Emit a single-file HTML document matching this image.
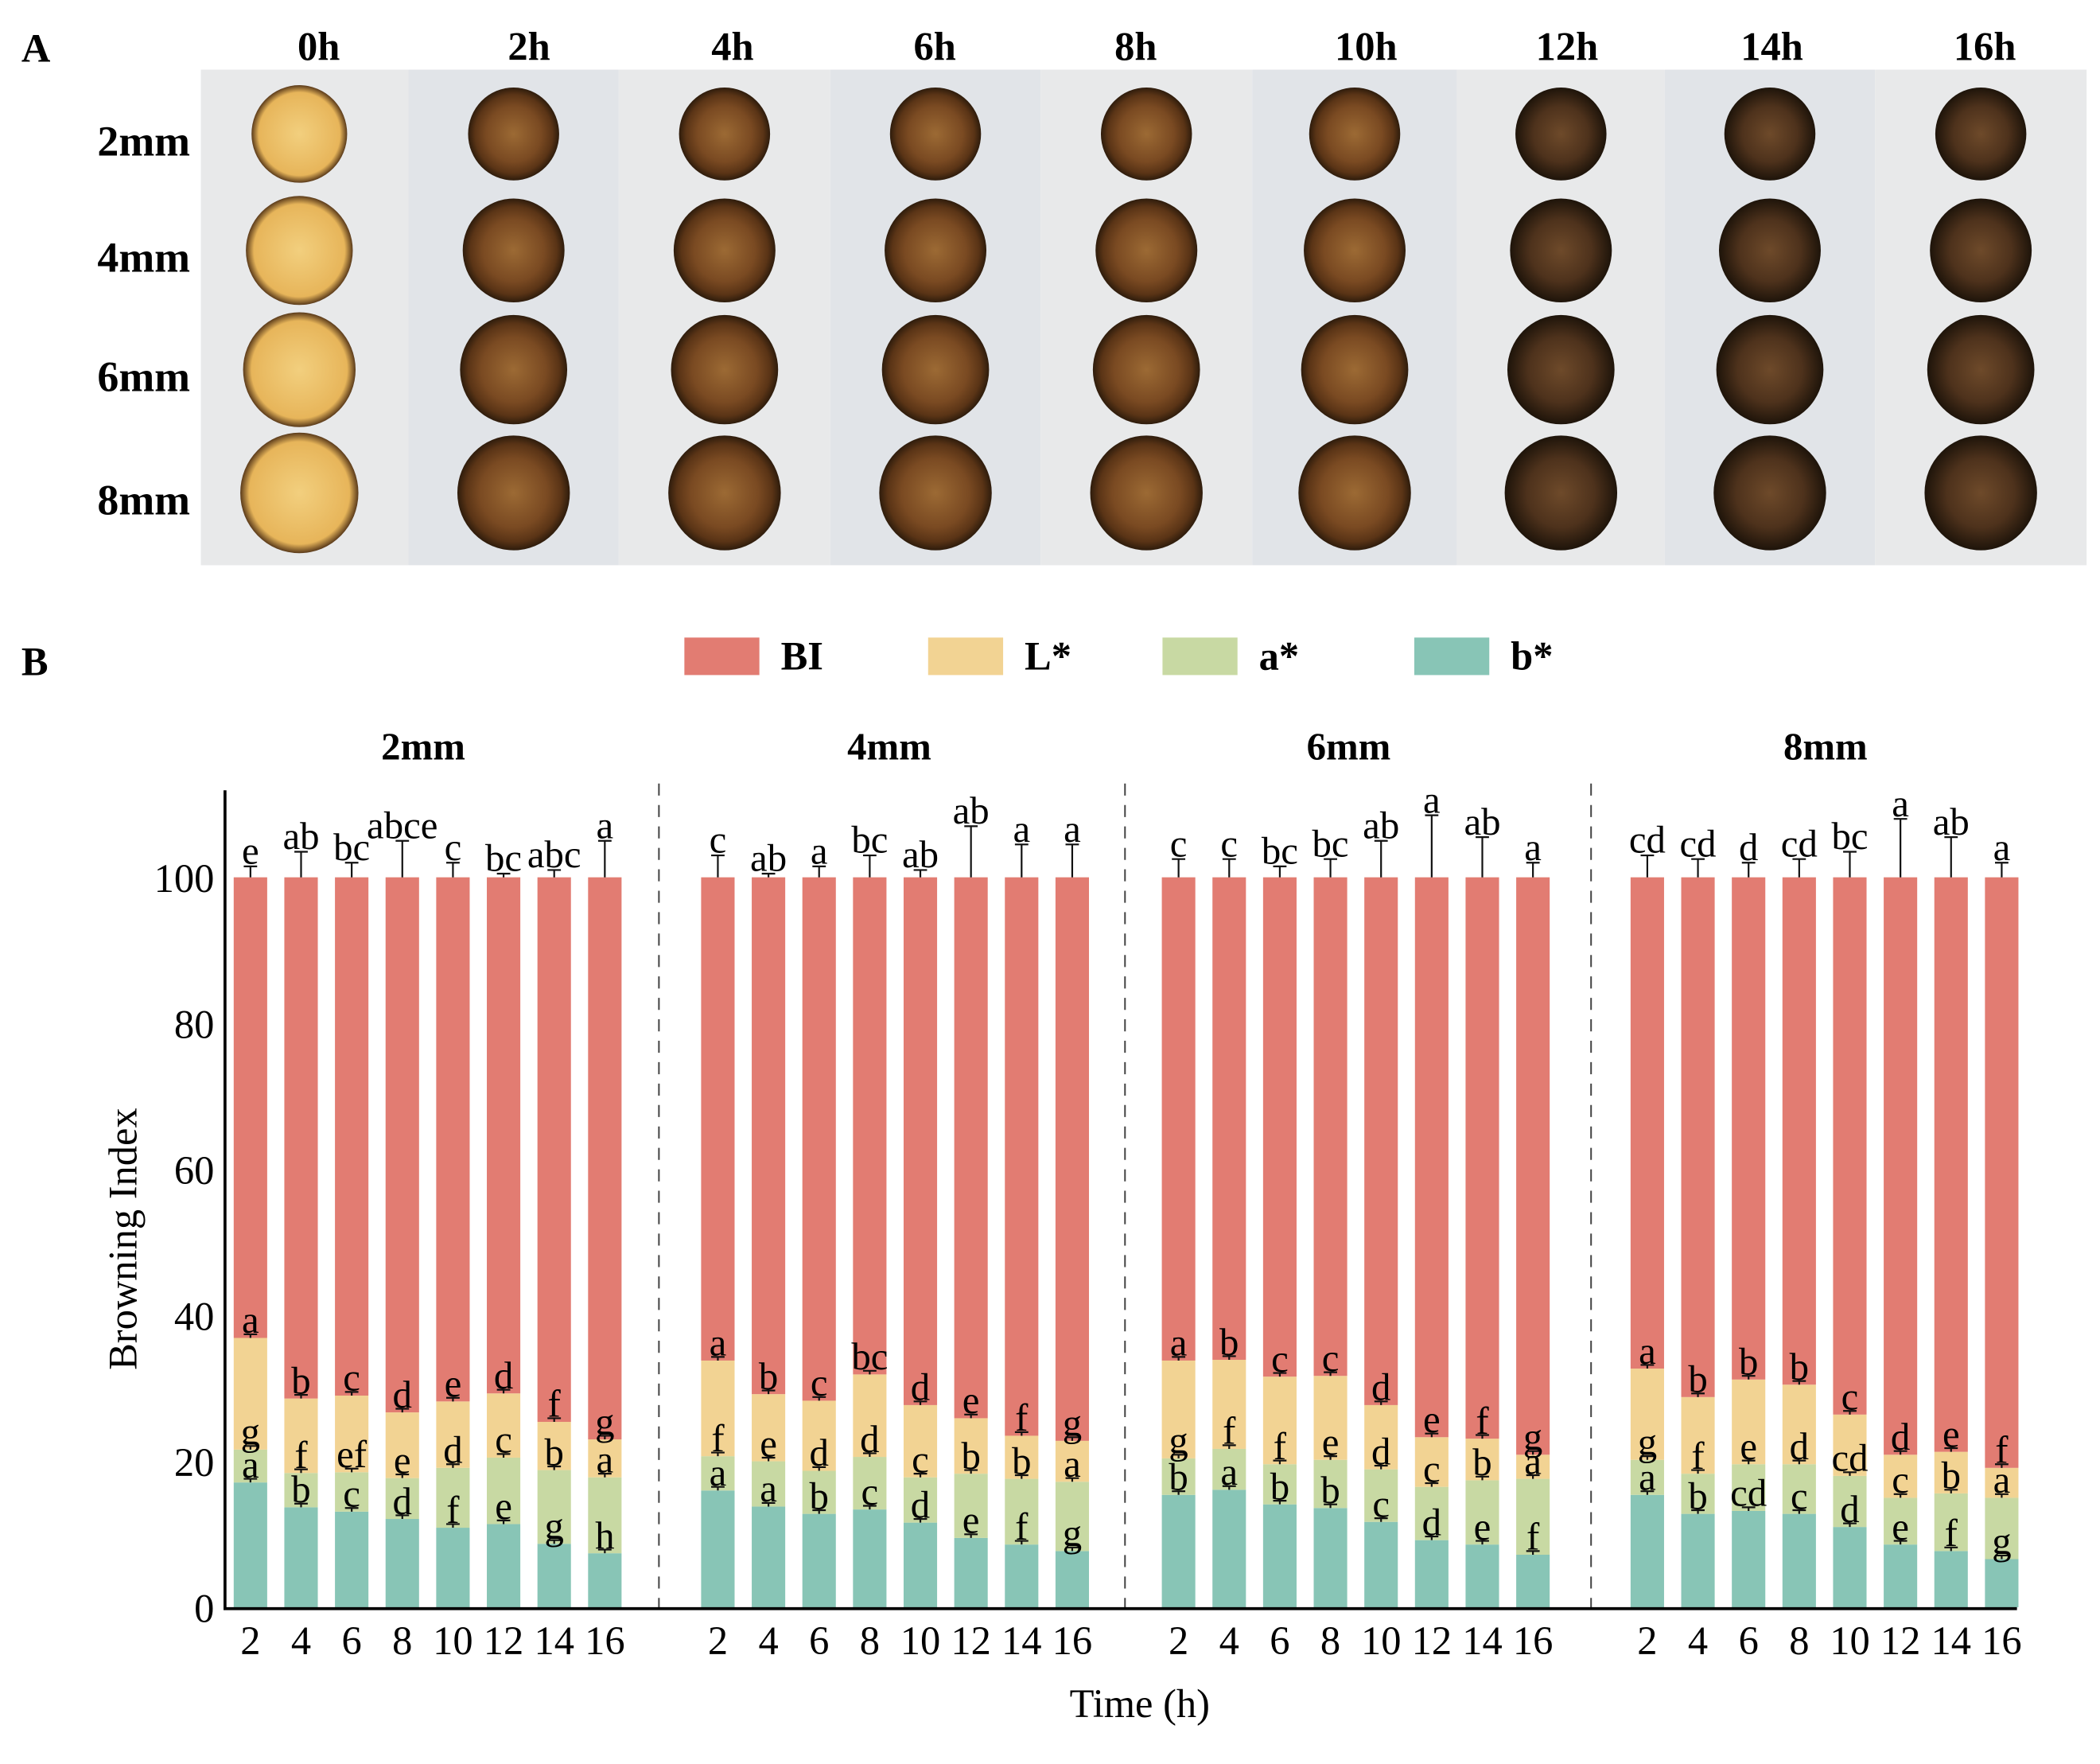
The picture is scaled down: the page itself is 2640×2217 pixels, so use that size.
<!DOCTYPE html>
<html><head><meta charset="utf-8"><style>
html,body{margin:0;padding:0;background:#fff;}
svg{display:block;font-family:"Liberation Serif",serif;}
</style></head><body>
<svg id="fig" width="2640" height="2217" viewBox="0 0 1568 1317" preserveAspectRatio="none" xmlns="http://www.w3.org/2000/svg">
<defs>
<radialGradient id="gy" cx="50%" cy="50%" r="50%"><stop offset="0%" stop-color="#f2cf7e"/><stop offset="85%" stop-color="#e7b55a"/><stop offset="100%" stop-color="#5a3a1a"/></radialGradient>
<radialGradient id="gb" cx="50%" cy="50%" r="50%"><stop offset="0%" stop-color="#9c6a34"/><stop offset="60%" stop-color="#7a4a22"/><stop offset="85%" stop-color="#5a3416"/><stop offset="100%" stop-color="#2e1c0c"/></radialGradient>
<radialGradient id="gd" cx="50%" cy="50%" r="50%"><stop offset="0%" stop-color="#6e4a2a"/><stop offset="60%" stop-color="#4e321c"/><stop offset="100%" stop-color="#1e140a"/></radialGradient>
</defs>
<g id="panelA"></g>
<g id="panelB"></g>
</svg>
<script>
// ---- chart data ----
const categories = [2,4,6,8,10,12,14,16];
const facets = ["2mm","4mm","6mm","8mm"];
const bStar = [
 [17.1,13.7,13.1,12.1,10.9,11.4,8.7,7.4],
 [16.0,13.8,12.8,13.4,11.6,9.5,8.6,7.7],
 [15.4,16.1,14.1,13.6,11.7,9.2,8.6,7.2],
 [15.4,12.8,13.2,12.8,11.0,8.6,7.7,6.6]];
const aStar = [
 [4.5,4.7,5.4,5.6,8.2,9.1,10.1,10.4],
 [4.7,6.2,5.9,7.2,6.2,8.8,9.0,9.5],
 [5.0,5.6,5.5,6.6,7.2,7.3,8.8,10.4],
 [4.8,5.5,6.4,6.8,7.0,6.4,7.9,8.4]];
const lStar = [
 [15.3,10.2,10.5,9.0,9.1,8.8,6.6,5.2],
 [13.1,9.2,9.6,11.3,9.9,7.6,5.9,5.6],
 [13.4,12.2,12.0,11.5,8.8,6.8,5.7,3.3],
 [12.5,10.5,11.6,10.9,8.4,5.9,5.7,4.1]];
const biVal = [
 [63.1,71.4,71.0,73.3,71.8,70.7,74.6,77.0],
 [66.2,70.8,71.7,68.1,72.3,74.1,76.5,77.2],
 [66.2,66.1,68.4,68.3,72.3,76.7,76.9,79.1],
 [67.3,71.2,68.8,69.5,73.6,79.1,78.7,80.9]];
const topErr = [
 [1.5,3.5,2,5,2,0.5,1,5],
 [3,0.5,1.5,3,1,7,4.5,4.5],
 [2.5,2.5,1.5,2.5,5,8.5,5.5,2],
 [3,2.5,2,2.5,3.5,8,5.5,2]];
const topLetters = [
 ["e","ab","bc","abce","c","bc","abc","a"],
 ["c","ab","a","bc","ab","ab","a","a"],
 ["c","c","bc","bc","ab","a","ab","a"],
 ["cd","cd","d","cd","bc","a","ab","a"]];
const biLetters = [
 ["a","b","c","d","e","d","f","g"],
 ["a","b","c","bc","d","e","f","g"],
 ["a","b","c","c","d","e","f","g"],
 ["a","b","b","b","c","d","e","f"]];
const lLetters = [
 ["g","f","ef","e","d","c","b","a"],
 ["f","e","d","d","c","b","b","a"],
 ["g","f","f","e","d","c","b","a"],
 ["g","f","e","d","cd","c","b","a"]];
const aLetters = [
 ["a","b","c","d","f","e","g","h"],
 ["a","a","b","c","d","e","f","g"],
 ["b","a","b","b","c","d","e","f"],
 ["a","b","cd","c","d","e","f","g"]];
const yTicks = [0,20,40,60,80,100];
const seriesNames = ["BI","L*","a*","b*"];
const seriesColors = ["#e27c72","#f2d393","#c8d9a3","#88c5b6"];

const NS="http://www.w3.org/2000/svg";
function mk(parent,tag,attrs,txt){const e=document.createElementNS(NS,tag);for(const k in attrs)e.setAttribute(k,attrs[k]);if(txt!==undefined)e.textContent=txt;parent.appendChild(e);return e;}

// ---- Panel A (photos) ----
const A=document.getElementById('panelA');
let t=mk(A,'text',{x:16,y:46,'font-size':30,'font-weight':'bold'},'A');


const times=["0h","2h","4h","6h","8h","10h","12h","14h","16h"];
const colX=[150,305,462,620,777,935,1088,1243,1400,1558];
const colLabelX=[238,395,547,698,848,1020,1170,1323,1482];
const rows=["2mm","4mm","6mm","8mm"];
const rowY=[100,187,276,368];
for(let c=0;c<9;c++){
  const r=mk(A,'rect',{x:colX[c],y:52,width:colX[c+1]-colX[c],height:370,fill:c%2?'#e1e4e8':'#e8e9ea'});
  
  
  const l=mk(A,'text',{x:colLabelX[c],y:45,'font-size':30,'font-weight':'bold','text-anchor':'middle'},times[c]);
  
  
  for(let k=0;k<4;k++){
    const cx=(colX[c]+colX[c+1])/2+(c==0?-4:0);
    const rad=[34,38,40,42][k]*(c==0?1.05:1);
    const d=mk(A,'ellipse',{cx:cx,cy:rowY[k],rx:rad,ry:rad*1.02,fill:c==0?'url(#gy)':(c>=6?'url(#gd)':'url(#gb)')});
    
    
  }
}
for(let k=0;k<4;k++){
  const l=mk(A,'text',{x:142,y:rowY[k]+16,'font-size':32,'font-weight':'bold','text-anchor':'end'},rows[k]);
  
  
}

// ---- Panel B (chart) ----
const B=document.getElementById('panelB');
const y0=1200, y100=655;
function yS(v){return y0-(y0-y100)*v/100;}
const groupStart=[187,536,880,1230], step=37.8, bw=25;
function xS(g,i){return groupStart[g]+i*step;}
t=mk(B,'text',{x:16,y:504,'font-size':30,'font-weight':'bold'},'B');


const legX=[511,693,868,1056];
for(let s=0;s<4;s++){
  const g=mk(B,'g',{});
  
  
  mk(g,'rect',{x:legX[s],y:476,width:56,height:28,fill:seriesColors[s]});
  mk(g,'text',{x:legX[s]+72,y:500,'font-size':30,'font-weight':'bold'},seriesNames[s]);
}
const facetX=[316,664,1007,1363];
for(let f=0;f<4;f++){
  const ft=mk(B,'text',{x:facetX[f],y:567,'font-size':29,'font-weight':'bold','text-anchor':'middle'},facets[f]);
  
  
}
[492,840,1188].forEach((x,i)=>{
  const l=mk(B,'line',{x1:x,y1:585,x2:x,y2:y0,stroke:'#444','stroke-width':1.2,'stroke-dasharray':'9,7'});
  
  
});
yTicks.forEach(v=>{
  const tk=mk(B,'text',{x:160,y:yS(v)+11,'font-size':30,'text-anchor':'end'},String(v));
  
  
});
t=mk(B,'text',{x:0,y:0,'font-size':30,'text-anchor':'middle',transform:'translate(102,925) rotate(-90)'},'Browning Index');


t=mk(B,'text',{x:851,y:1282,'font-size':30,'text-anchor':'middle'},'Time (h)');



function errBar(parent,x,yv,ev){
  const yt=yS(yv+ev), yb=yS(yv);
  const e=mk(parent,'path',{d:`M${x},${yb}V${yt}M${x-5},${yt}H${x+5}`,stroke:'#111','stroke-width':1.3,fill:'none'});
  
  
  return yt;
}
function letter(parent,x,y,txt,name){
  const e=mk(parent,'text',{x:x,y:y,'font-size':29,'text-anchor':'middle'},txt);
  
  
}
for(let f=0;f<4;f++){
  for(let i=0;i<8;i++){
    const x=xS(f,i);
    const g=mk(B,'g',{});
    
    
    const segs=[bStar[f][i],aStar[f][i],lStar[f][i],biVal[f][i]];
    const cols=[seriesColors[3],seriesColors[2],seriesColors[1],seriesColors[0]];
    const nm=["b-star","a-star","l-star","bi"];
    let cum=0; const tops=[];
    for(let s=0;s<4;s++){
      const r=mk(g,'rect',{x:x-bw/2,y:yS(cum+segs[s]),width:bw,height:yS(cum)-yS(cum+segs[s]),fill:cols[s]});
      
      
      cum+=segs[s]; tops.push(cum);
    }
    const e1=errBar(g,x,tops[0],0.5); letter(g,x,e1-1,aLetters[f][i],'letter-a-star');
    const e2=errBar(g,x,tops[1],0.5); letter(g,x,e2-1,lLetters[f][i],'letter-l-star');
    const e3=errBar(g,x,tops[2],0.5); letter(g,x,e3-1,biLetters[f][i],'letter-bi');
    const e4=errBar(g,x,tops[3],topErr[f][i]); letter(g,x,e4-2,topLetters[f][i],'letter-top');
    const xl=mk(B,'text',{x:x,y:1235,'font-size':30,'text-anchor':'middle'},String(categories[i]));
    
    
  }
}
t=mk(B,'path',{d:`M168,590V${y0+1}H1506`,stroke:'#000','stroke-width':2.2,fill:'none'});


</script>
</body></html>
